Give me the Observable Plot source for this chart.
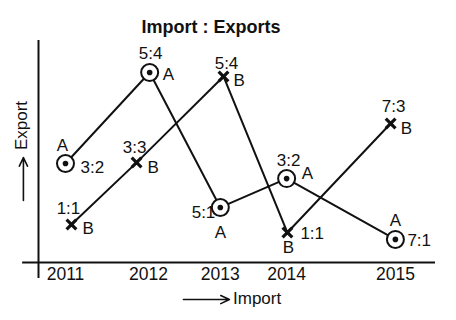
<!DOCTYPE html>
<html>
<head>
<meta charset="utf-8">
<script src="https://cdn.jsdelivr.net/npm/d3@7"></script>
<script src="https://cdn.jsdelivr.net/npm/@observablehq/plot@0.6"></script>
<style>
  html, body { margin: 0; padding: 0; background: #fff; }
  #chart svg { display: block; }
  #chart svg, #chart svg text { font-family: "Liberation Sans", Arial, Helvetica, sans-serif; }
</style>
</head>
<body>
<div id="chart"></div>
<script>
// ---- data ----
const years = ["2011", "2012", "2013", "2014", "2015"];
const yearPos = [0.68, 2.77, 4.58, 6.25, 8.99];          // import-axis position of each year label
const importA = [0.68, 2.80, 4.58, 6.25, 8.99];
const exportA = [4.46, 8.56, 2.48, 3.78, 1.04];
const importB = [0.83, 2.47, 4.66, 6.27, 8.87];
const exportB = [1.71, 4.50, 8.38, 1.35, 6.26];
const ratioA = ["3:2", "5:4", "5:1", "3:2", "7:1"];
const ratioB = ["1:1", "3:3", "5:4", "1:1", "7:3"];

// ---- label placement (dx, dy, anchor) ----
const ratioAPlace  = [[15, 4, "start"], [1, -19, "middle"], [-5, 5, "end"], [2, -18, "middle"], [12, 1, "start"]];
const letterAPlace = [[-3, -18, "middle"], [13, 2, "start"], [0, 25, "middle"], [15, -5, "start"], [0, -19, "middle"]];
const ratioBPlace  = [[-3, -16, "middle"], [-2, -15, "middle"], [3, -13, "middle"], [13, 1, "start"], [3, -17, "middle"]];
const letterBPlace = [[11, 4, "start"], [11, 5, "start"], [10, 4, "start"], [1, 15, "middle"], [10, 5, "start"]];

const A = years.map((yr, i) => ({year: yr, x: importA[i], y: exportA[i], ratio: ratioA[i]}));
const B = years.map((yr, i) => ({year: yr, x: importB[i], y: exportB[i], ratio: ratioB[i]}));

const font = "Liberation Sans, Arial, Helvetica, sans-serif";
const fs = 17;

function labels(rows, field, places) {
  return rows.map((r, i) => {
    const [dx, dy, anchor] = places[i];
    return Plot.text([r], {
      x: "x", y: "y", text: field,
      dx, dy, textAnchor: anchor, fontSize: fs, fill: "#111"
    });
  });
}

const chart = Plot.plot({
  width: 456,
  height: 320,
  marginLeft: 38,
  marginRight: 21,
  marginTop: 40,
  marginBottom: 58,
  style: {fontFamily: font, background: "#fff", color: "#111", overflow: "visible"},
  x: {type: "linear", domain: [0, 10], axis: null},
  y: {type: "linear", domain: [0, 10], axis: null},
  marks: [
    // axis lines
    Plot.ruleY([0], {x1: -0.4, x2: 10, stroke: "#111", strokeWidth: 2}),
    Plot.ruleX([0], {y1: -0.72, y2: 10, stroke: "#111", strokeWidth: 2}),
    // year tick labels
    Plot.axisX({
      ticks: yearPos,
      tickFormat: (d) => years[yearPos.indexOf(d)],
      tickSize: 0,
      tickPadding: 5,
      fontSize: 17.5,
      label: null,
      anchor: "bottom",
      fill: "#111"
    }),
    // series lines
    Plot.line(A, {x: "x", y: "y", stroke: "#111", strokeWidth: 2}),
    Plot.line(B, {x: "x", y: "y", stroke: "#111", strokeWidth: 2}),
    // A markers: ring with center dot
    Plot.dot(A, {x: "x", y: "y", r: 8.5, stroke: "#111", strokeWidth: 2, fill: "#fff"}),
    Plot.dot(A, {x: "x", y: "y", r: 2.8, fill: "#111", stroke: "none"}),
    // B markers: bold cross
    Plot.dot(B, {x: "x", y: "y", symbol: "times", r: 4.5, stroke: "#111", strokeWidth: 3.2}),
    // labels
    ...labels(A, "ratio", ratioAPlace),
    ...labels(A, () => "A", letterAPlace),
    ...labels(B, "ratio", ratioBPlace),
    ...labels(B, () => "B", letterBPlace),
    // title
    Plot.text(["Import : Exports"], {frameAnchor: "top", dx: -26, dy: -20.5, fontSize: 18, fontWeight: "bold", fill: "#111"}),
    // axis titles with arrows
    Plot.arrow([{x1: 3.65, x2: 4.81, y1: -1.67, y2: -1.67}], {x1: "x1", x2: "x2", y1: "y1", y2: "y2", stroke: "#111", strokeWidth: 1.6, headLength: 9, headAngle: 50}),
    Plot.text(["Import"], {x: 4.9, y: -1.62, textAnchor: "start", fontSize: 17, fill: "#111"}),
    Plot.arrow([{x1: -0.38, x2: -0.38, y1: 2.79, y2: 4.73}], {x1: "x1", x2: "x2", y1: "y1", y2: "y2", stroke: "#111", strokeWidth: 1.6, headLength: 9, headAngle: 50}),
    Plot.text(["Export"], {x: -0.42, y: 6.17, rotate: -90, fontSize: 17, fill: "#111"})
  ]
});

document.getElementById("chart").appendChild(chart);
</script>
</body>
</html>
